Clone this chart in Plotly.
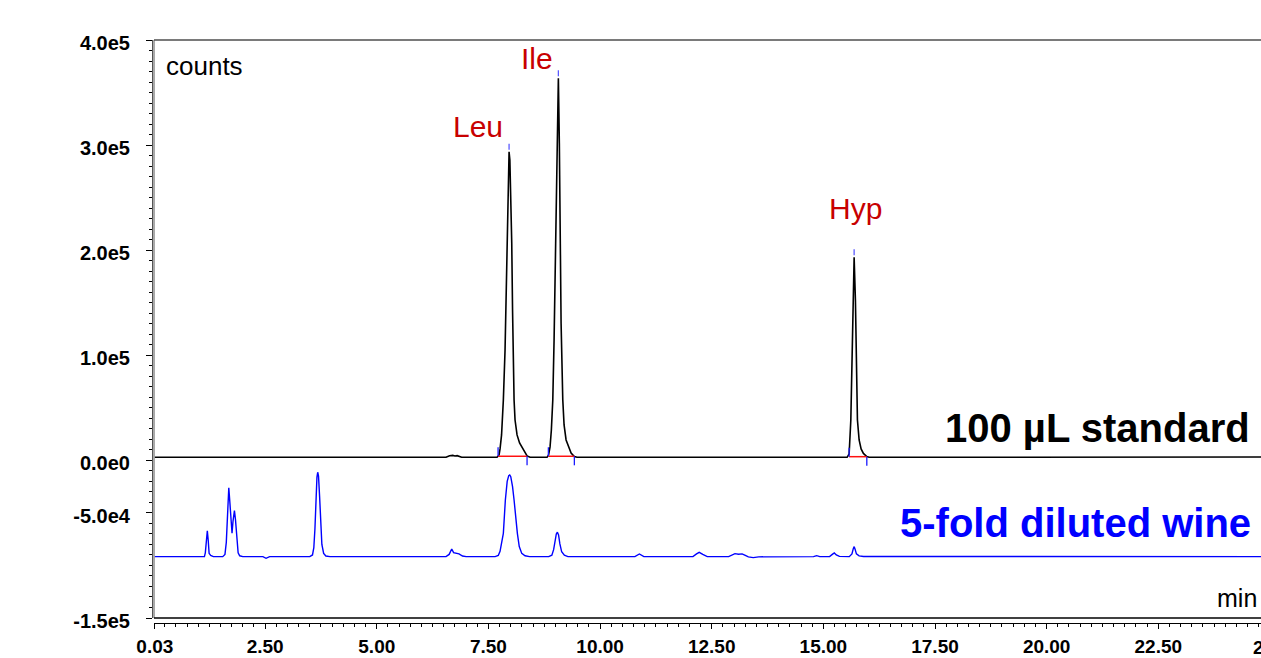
import numpy as np
import plotly.graph_objects as go

# ---------------- data ----------------
# 100 uL standard chromatogram (time in min, signal in counts)
std_time = [0.03, 6.55, 6.63, 6.70, 6.75, 6.80, 6.90,
            7.693, 7.738, 7.760, 7.794, 7.834, 7.872, 7.901, 7.924, 7.944, 7.962,
            7.980, 8.002, 8.022, 8.040, 8.058, 8.074, 8.096, 8.141, 8.197, 8.246,
            8.298, 8.365, 8.432,
            8.813, 8.847, 8.880, 8.909, 8.941, 8.970, 9.008, 9.037, 9.066,
            9.088, 9.104, 9.127, 9.165, 9.194, 9.239, 9.290, 9.351, 9.424, 9.485,
            15.532, 15.577, 15.615, 15.644, 15.671, 15.689,
            15.718, 15.738, 15.763, 15.801, 15.845, 15.897, 15.973, 16.025,
            24.9]
std_counts = [2900, 2900, 4400, 4700, 4100, 4500, 2900,
              2900, 5100, 10900, 24200, 57500, 105000, 159000, 206500, 262000, 293700,
              285800, 252500, 206500, 143100, 86000, 57500, 38400, 24200, 16600, 12800,
              8000, 4200, 2900,
              2900, 5100, 12800, 28900, 57500, 114600, 206500, 301700, 363600,
              301700, 206500, 130400, 57500, 33700, 19400, 12800, 7000, 3700, 2900,
              2900, 6100, 38400, 95600, 152200, 193300,
              152200, 95600, 38400, 19400, 10900, 6600, 3700, 2900,
              3200]

# 5-fold diluted wine chromatogram (displayed with its offset)
wine_time = [0.03, 1.14, 1.16, 1.185, 1.205, 1.225, 1.245, 1.28, 1.34,
             1.55, 1.60, 1.63, 1.66, 1.686, 1.71, 1.735, 1.758, 1.78, 1.812, 1.835,
             1.865, 1.895, 1.93, 2.00,
             2.45, 2.52, 2.60,
             3.50, 3.56, 3.59, 3.615, 3.64, 3.66, 3.677, 3.695, 3.72, 3.745, 3.77,
             3.81, 3.86, 3.95,
             6.55, 6.62, 6.678, 6.72, 6.78, 6.84, 6.92, 7.00,
             7.65, 7.72, 7.76, 7.80, 7.834, 7.879, 7.92, 7.955, 7.977, 8.00, 8.04,
             8.074, 8.11, 8.148, 8.19, 8.246, 8.32, 8.42,
             8.85, 8.92, 8.96, 8.99, 9.02, 9.044, 9.07, 9.10, 9.14, 9.20, 9.28,
             10.78, 10.88, 10.98,
             12.08, 12.16, 12.22, 12.30, 12.40,
             12.88, 12.96, 13.02, 13.10, 13.18, 13.24, 13.32, 13.43, 13.55,
             14.78, 14.85, 14.92,
             15.14, 15.20, 15.245, 15.29, 15.36,
             15.58, 15.64, 15.67, 15.69, 15.71, 15.74, 15.80, 15.90,
             24.9]
wine_counts = [-91600, -91600, -88000, -75000, -67000, -76000, -88500, -90500, -91600,
               -91600, -89500, -78000, -45000, -26000, -40000, -62000, -69400, -58000, -47900, -56000,
               -78000, -88000, -90800, -91600,
               -91600, -93200, -91600,
               -91600, -90000, -83000, -65000, -35000, -16000, -11300, -15000, -35000, -63000, -80000,
               -88500, -91000, -91600,
               -91600, -89500, -84300, -87800, -88500, -89000, -91000, -91600,
               -91600, -90500, -86500, -78000, -69400, -37700, -20000, -14500, -13900, -15500, -25000,
               -37700, -55000, -69400, -82000, -88500, -90800, -91600,
               -91600, -90300, -85000, -77000, -70000, -68400, -71000, -79500, -87000, -90300, -91600,
               -91600, -89100, -91600,
               -91600, -89000, -87500, -89500, -91600,
               -91600, -89800, -88800, -89300, -89000, -90200, -91900, -92500, -91800,
               -91600, -90700, -91600,
               -91600, -89500, -88100, -90000, -91400,
               -91600, -89000, -84000, -82100, -84500, -89000, -90900, -91500,
               -91600]

# integrated peaks of the standard
peak_names = ["Leu", "Ile", "Hyp"]
peak_rt = [7.962, 9.066, 15.689]
peak_height = [293700, 363600, 193300]
peak_start = [7.716, 8.842, 15.577]
peak_end = [8.365, 9.424, 15.973]
peak_base = [3900, 3900, 3500]

# axis ticks
x_tickvals = [0.03, 1.25, 2.5, 3.75, 5.0, 6.25, 7.5, 8.75, 10.0, 11.25, 12.5,
              13.75, 15.0, 16.25, 17.5, 18.75, 20.0, 21.25, 22.5, 23.75]
x_ticktext = ["0.03", "", "2.50", "", "5.00", "", "7.50", "", "10.00", "", "12.50",
              "", "15.00", "", "17.50", "", "20.00", "", "22.50", ""]
y_tickvals = [-150000, -100000, -50000, 0, 50000, 100000, 150000, 200000,
              250000, 300000, 350000, 400000]
y_ticktext = ["-1.5e5", "", "-5.0e4", "0.0e0", "", "1.0e5", "", "2.0e5",
              "", "3.0e5", "", "4.0e5"]

# ---------------- figure ----------------
W, H = 1261, 658
ML, MR, MT, MB = 152, 0, 40, 35
PW, PH = W - ML - MR, H - MT - MB


def fx(px):
    return (px - ML) / PW


def fy(py):
    return (H - MB - py) / PH


FONT = "Liberation Sans, Arial, sans-serif"
fig = go.Figure()

fig.add_trace(go.Scatter(x=std_time, y=std_counts, mode="lines",
                         line=dict(color="black", width=1.6), hoverinfo="skip"))
fig.add_trace(go.Scatter(x=wine_time, y=wine_counts, mode="lines",
                         line=dict(color="#0000ff", width=1.4), hoverinfo="skip"))

# integration baselines (red) and event ticks (blue)
TICK = 8600
GAP, APEX_LEN = 1900, 5700
bx, by, tx, ty, ax_, ay_ = [], [], [], [], [], []
for s, e, b, rt, h in zip(peak_start, peak_end, peak_base, peak_rt, peak_height):
    bx += [s, e, None]
    by += [b, b, None]
    tx += [s, s, None, e, e, None]
    ty += [b, b + TICK, None, b, b - TICK, None]
    ax_ += [rt, rt, None]
    ay_ += [h + GAP, h + GAP + APEX_LEN, None]
fig.add_trace(go.Scatter(x=bx, y=by, mode="lines", line=dict(color="#ff1010", width=1.5),
                         hoverinfo="skip"))
fig.add_trace(go.Scatter(x=tx, y=ty, mode="lines", line=dict(color="#1a1aff", width=1.3),
                         hoverinfo="skip"))
fig.add_trace(go.Scatter(x=ax_, y=ay_, mode="lines", line=dict(color="#5a5aff", width=1.3),
                         hoverinfo="skip"))

# peak labels
label_shift = {"Leu": (-31, 25), "Ile": (-21, 20), "Hyp": (1, 49)}
for name, rt, h in zip(peak_names, peak_rt, peak_height):
    dx, dy = label_shift[name]
    fig.add_annotation(x=rt, y=h, xref="x", yref="y", text=name, showarrow=False,
                       xanchor="center", yanchor="middle", xshift=dx, yshift=dy,
                       font=dict(family=FONT, size=30, color="#c80000"))

fig.add_annotation(x=fx(164), y=fy(66), xref="paper", yref="paper", text="counts",
                   showarrow=False, xanchor="left", yanchor="middle",
                   font=dict(family=FONT, size=26, color="black"))
fig.add_annotation(x=fx(1259), y=fy(598), xref="paper", yref="paper", text="min",
                   showarrow=False, xanchor="right", yanchor="middle",
                   font=dict(family=FONT, size=25, color="black"))
fig.add_annotation(x=fx(1252), y=fy(428), xref="paper", yref="paper",
                   text="<b>100 \u00b5L standard</b>", showarrow=False,
                   xanchor="right", yanchor="middle",
                   font=dict(family=FONT, size=40, color="black"))
fig.add_annotation(x=fx(1253), y=fy(523), xref="paper", yref="paper",
                   text="<b>5-fold diluted wine</b>", showarrow=False,
                   xanchor="right", yanchor="middle",
                   font=dict(family=FONT, size=40, color="#0000ff"))
# partially visible last x tick label (cut by the page edge, as in the reference)
fig.add_annotation(x=fx(1277), y=fy(647), xref="paper", yref="paper",
                   text="<b>25.00</b>", showarrow=False, xanchor="center", yanchor="middle",
                   font=dict(family=FONT, size=19, color="black"))

# frame lines
fig.add_shape(type="line", xref="paper", yref="paper", x0=fx(154), x1=1, y0=1, y1=1,
              line=dict(color="#7a7a7a", width=2))
fig.add_shape(type="line", xref="paper", yref="paper", x0=fx(154), x1=fx(154),
              y0=fy(618), y1=1, line=dict(color="#555555", width=1))
fig.add_shape(type="line", xref="paper", yref="paper", x0=fx(154), x1=1,
              y0=fy(618), y1=fy(618), line=dict(color="black", width=1.5))

fig.update_layout(
    width=W, height=H,
    margin=dict(l=ML, r=MR, t=MT, b=MB, pad=0, autoexpand=False),
    paper_bgcolor="white", plot_bgcolor="white",
    showlegend=False,
    xaxis=dict(domain=[fx(154), 1], anchor="free", position=0, automargin=False,
               range=[0.011, 24.80], showgrid=False, zeroline=False,
               showline=True, linecolor="black", linewidth=1,
               tickmode="array", tickvals=x_tickvals, ticktext=x_ticktext,
               ticks="outside", ticklen=5, tickcolor="black", tickwidth=1,
               ticklabelstandoff=1,
               tickfont=dict(family=FONT, size=19, color="black", weight="bold"),
               minor=dict(tickmode="array", tickvals=list(np.arange(0, 25, 0.25)),
                          ticks="outside", ticklen=3, tickcolor="black")),
    yaxis=dict(domain=[fy(618), 1], anchor="free", position=0, automargin=False,
               range=[-150000, 400000], showgrid=False, zeroline=False,
               showline=True, linecolor="#555555", linewidth=1,
               tickmode="array", tickvals=y_tickvals, ticktext=y_ticktext,
               ticks="outside", ticklen=6, tickcolor="black", tickwidth=1,
               ticklabelstandoff=12, ticklabelshift=3,
               tickfont=dict(family=FONT, size=20, color="black", weight="bold"),
               minor=dict(tickmode="array", tickvals=list(np.arange(-150000, 400001, 10000)),
                          ticks="outside", ticklen=3, tickcolor="black")),
)

fig.write_html("out.html")
